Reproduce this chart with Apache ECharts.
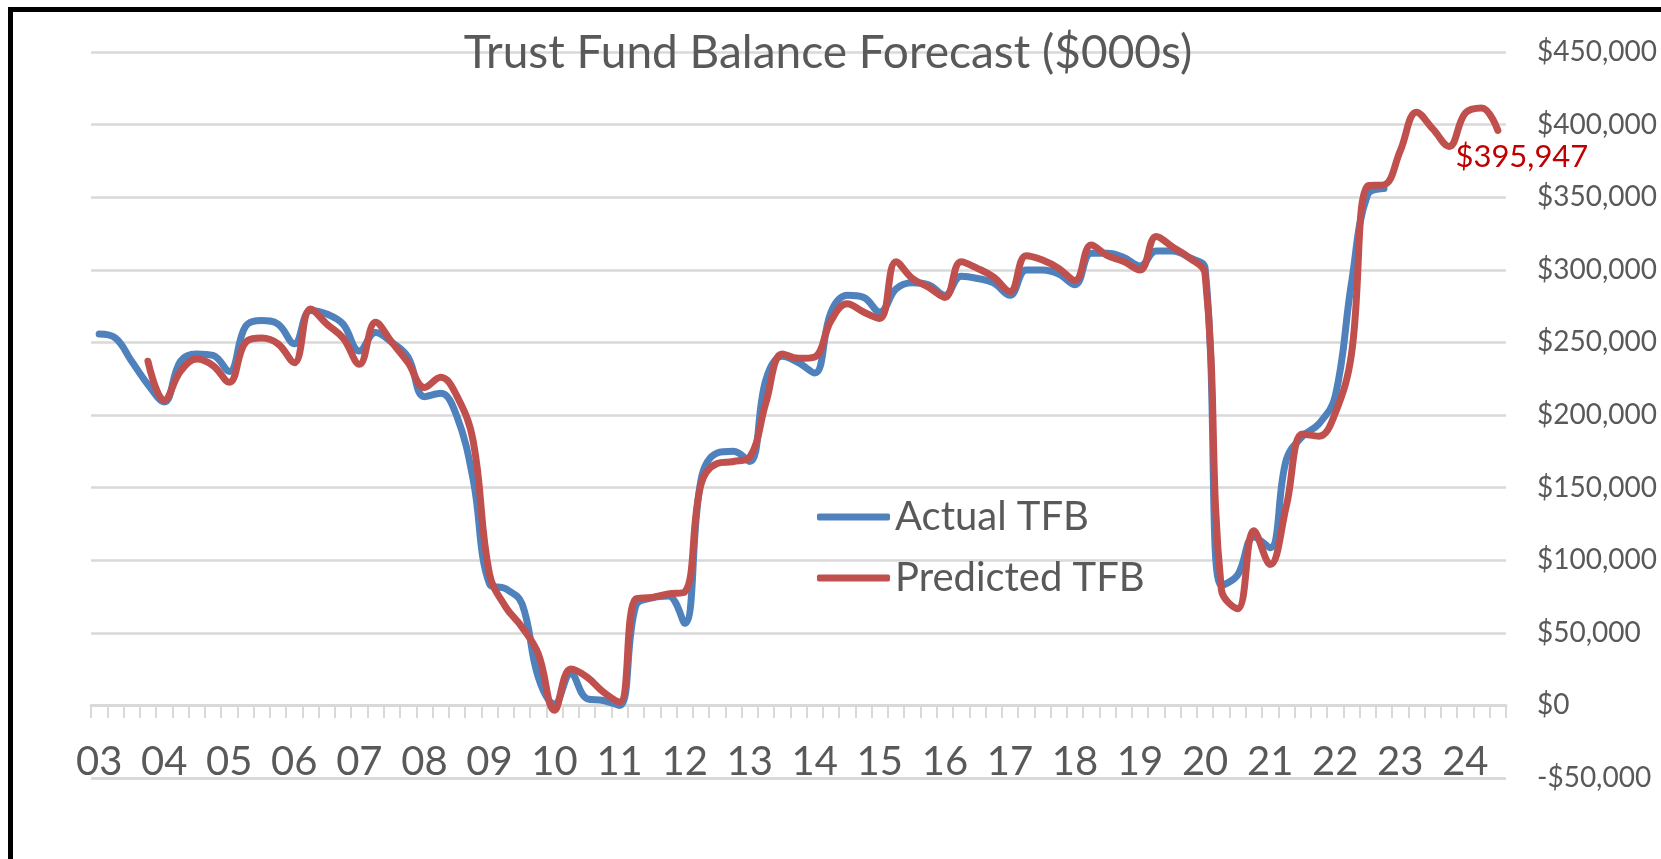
<!DOCTYPE html>
<html>
<head>
<meta charset="utf-8">
<title>Trust Fund Balance Forecast</title>
<script src="https://cdn.jsdelivr.net/npm/echarts@6/dist/echarts.min.js"></script>
<style>
    html, body { margin: 0; padding: 0; background: #fff; }
    #chart { width: 1661px; height: 859px; }
</style>
</head>
<body>
<div id="chart"></div>
<script>
/* 年份标签，每年四个季度，到24年第三季度为止 */
const years = ['03', '04', '05', '06', '07', '08', '09', '10', '11', '12', '13',
    '14', '15', '16', '17', '18', '19', '20', '21', '22', '23', '24'];
const quarterCount = 87;

/* Actual TFB, 03Q1 - 22Q4 */
const actualTFB = [
    255700, 253000, 237000, 221000, 209000, 237000, 242000, 241000, 230000, 261000,
    265000, 262600, 249000, 272000, 269500, 262600, 244000, 256900, 250000, 239700,
    212600, 214900, 198900, 155300, 83700, 80300, 70000, 19500, 1000, 21800,
    4600, 3400, 0, 68800, 74000, 75300, 56500, 155000, 173800, 175000,
    168000, 224500, 240400, 236000, 228900, 270900, 282400, 281000, 270900, 286800,
    291000, 289700, 282400, 295500, 294000, 291000, 282400, 299800, 299800, 297000,
    289700, 311400, 311400, 308500, 302700, 312900, 312900, 308500, 301000, 82600,
    89800, 115900, 108600, 169500, 185400, 194000, 212900, 291000, 352000, 356000
];

/* Predicted TFB, 03Q4 - 24Q3 */
const predictedTFB = [
    null, null, null, 237000, 210000, 230000, 238500, 234000, 222500, 250000,
    253000, 249000, 236000, 273000, 262600, 253000, 235000, 263800, 250000, 236000,
    219000, 226000, 213000, 182000, 90600, 67700, 53900, 35600, -3400, 25000,
    19500, 9200, 2300, 73400, 74400, 76800, 78000, 152000, 166600, 168000,
    171000, 208600, 242000, 239000, 240000, 265000, 276600, 270900, 266500, 305600,
    294000, 288000, 281000, 305600, 301000, 295000, 285000, 309700, 306700, 301000,
    292600, 317000, 309700, 305600, 299800, 323000, 315700, 308500, 297000, 79700,
    66600, 120200, 97000, 137600, 186900, 185400, 201300, 242000, 357800, 358500,
    382000, 408500, 397000, 385000, 408000, 411500, 395947
];

const yMin = -50000;
const yMax = 450000;
const yStep = 50000;

let categories = [];
years.forEach(function (yr) {
    for (let q = 1; q <= 4; q++) {
        if (categories.length < quarterCount) categories.push(yr + ' Q' + q);
    }
});

const lastIndex = predictedTFB.length - 1;
const lastValue = predictedTFB[lastIndex];

function money(v) {
    let s = '$' + Math.abs(v).toLocaleString('en-US');
    return v < 0 ? '-' + s : s;
}

const font = 'Lato, "Open Sans", sans-serif';
const gridColor = '#d9d9d9';

var chart = echarts.init(document.getElementById('chart'));
var option = {
    backgroundColor: '#fff',
    animation: false,
    title: {
        text: 'Trust Fund Balance Forecast ($000s)',
        left: 823,
        textAlign: 'center',
        top: 25,
        textStyle: {
            fontFamily: font,
            fontSize: 46,
            fontWeight: 'normal',
            color: '#595959'
        }
    },
    legend: {
        orient: 'vertical',
        left: 812,
        top: 490,
        icon: 'roundRect',
        itemWidth: 73,
        itemHeight: 7,
        itemGap: 17,
        textStyle: {
            fontFamily: font,
            fontSize: 40,
            lineHeight: 44,
            color: '#595959'
        },
        data: ['Actual TFB', 'Predicted TFB']
    },
    grid: {
        left: 91,
        right: 155,
        top: 52,
        bottom: 81,
        containLabel: false
    },
    xAxis: {
        type: 'category',
        boundaryGap: true,
        data: categories,
        position: 'bottom',
        offset: -73, // 轴线放在 $0 处
        axisLine: {
            onZero: false,
            lineStyle: { color: gridColor, width: 3 }
        },
        axisTick: {
            show: true,
            interval: 0,
            length: 13,
            lineStyle: { color: gridColor, width: 2 }
        },
        axisLabel: {
            interval: 3,
            margin: 37,
            fontFamily: font,
            fontSize: 40,
            color: '#595959',
            formatter: function (v) { return v.slice(0, 2); }
        },
        splitLine: { show: false }
    },
    yAxis: {
        type: 'value',
        position: 'right',
        min: yMin,
        max: yMax,
        interval: yStep,
        axisLine: { show: false },
        axisTick: { show: false },
        axisLabel: {
            margin: 31,
            align: 'left',
            fontFamily: font,
            fontSize: 28,
            color: '#595959',
            formatter: money
        },
        splitLine: {
            showMinLine: true,
            showMaxLine: true,
            lineStyle: { color: gridColor, width: 2.5 }
        }
    },
    series: [
        {
            name: 'Actual TFB',
            type: 'line',
            smooth: 0.4,
            symbol: 'none',
            data: actualTFB,
            itemStyle: { color: '#4F81BD' },
            lineStyle: { color: '#4F81BD', width: 7, cap: 'round', join: 'round' },
            // 最底下一条网格线
            markLine: {
                silent: true,
                symbol: 'none',
                z: 1,
                label: { show: false },
                lineStyle: { color: gridColor, width: 2.5, type: 'solid' },
                data: [{ yAxis: yMin }]
            }
        },
        {
            name: 'Predicted TFB',
            type: 'line',
            smooth: 0.4,
            symbol: 'none',
            data: predictedTFB,
            itemStyle: { color: '#C0504D' },
            lineStyle: { color: '#C0504D', width: 7, cap: 'round', join: 'round' },
            markPoint: {
                symbol: 'circle',
                symbolSize: 1,
                itemStyle: { color: 'rgba(0,0,0,0)' },
                label: {
                    show: true,
                    position: 'bottom',
                    distance: 11,
                    offset: [24, 0],
                    fontFamily: font,
                    fontSize: 31,
                    color: '#C00000',
                    formatter: function (p) { return money(p.value); }
                },
                data: [{ coord: [categories[lastIndex], lastValue], value: lastValue }]
            }
        }
    ],
    graphic: [
        {
            type: 'rect',
            silent: true,
            z: 100,
            shape: { x: 10.5, y: 9.5, width: 1700, height: 900 },
            style: { fill: 'none', stroke: '#000', lineWidth: 5 }
        }
    ]
};
chart.setOption(option);

window.addEventListener('resize', function () {
    chart.resize();
});
</script>
</body>
</html>
